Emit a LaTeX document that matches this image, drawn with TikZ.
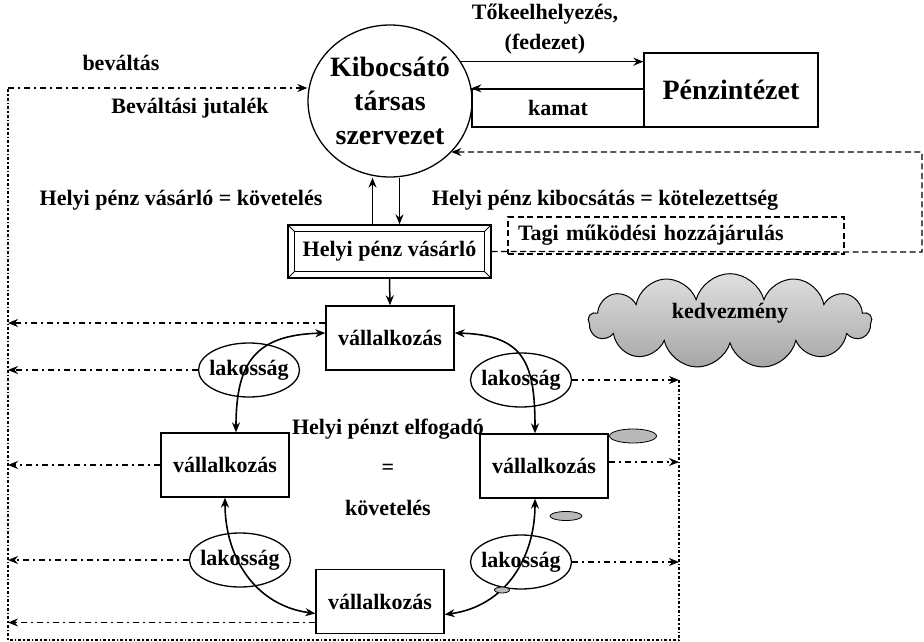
\documentclass[tikz,border=0pt]{standalone}
\usepackage{fontspec}
\setmainfont{Liberation Serif}
\usetikzlibrary{arrows.meta,shapes.geometric,shapes.symbols}

\begin{document}
\begin{tikzpicture}[
    x=1pt, y=-1pt,
    txt/.style={font=\fontsize{22}{26}\selectfont\bfseries},
    big/.style={font=\fontsize{28}{34}\selectfont\bfseries},
    issuer/.style={ellipse, draw, line width=1.3pt, big, align=center, inner xsep=-3pt, inner ysep=0pt, minimum width=164pt, minimum height=152pt},
    bank/.style={rectangle, draw, line width=1.3pt, big, minimum width=174pt, minimum height=74pt},
    firm/.style={rectangle, draw, line width=1.3pt, txt, minimum width=128pt, minimum height=64pt},
    popul/.style={ellipse, draw, line width=1.3pt, txt, inner xsep=-5pt, inner ysep=0pt, minimum width=101pt, minimum height=54pt},
    blob/.style={ellipse, draw, line width=0.8pt, fill=gray!55, inner sep=0pt},
    arrow/.style={-{Stealth[length=10pt,width=8pt]}, line width=1.5pt},
    twoway/.style={{Stealth[length=10pt,width=8pt]}-{Stealth[length=10pt,width=8pt]}, line width=1.6pt},
    flow/.style={dash pattern=on 6pt off 4pt on 2pt off 4pt, line width=1.3pt},
    border/.style={dash pattern=on 3pt off 2pt on 1.5pt off 2pt, line width=1.2pt},
    member/.style={dash pattern=on 6pt off 3.5pt, line width=1.3pt}
]
\useasboundingbox (0,0) rectangle (924,642);

% Top: issuer and bank
\node[issuer] (K) at (390,101) {Kibocsátó\\társas\\szervezet};
\node[bank] (P) at (731,90) {Pénzintézet};
\node[draw, line width=1.3pt, txt, minimum width=172pt, minimum height=38pt] (kamat) at (558,108) {kamat};
\node[font=\fontsize{22}{30}\selectfont\bfseries, align=center] (toke) at (545,29) {Tőkeelhelyezés,\\(fedezet)};

% Buyer
\node[draw, line width=1.3pt, txt, minimum width=203pt, minimum height=53pt] (H) at (389.5,251.5) {Helyi pénz vásárló};
\draw[line width=1pt] ([shift={(7,7)}]H.north west) rectangle ([shift={(-7,-7)}]H.south east);
\foreach \c/\dx/\dy in {north west/7/7, north east/-7/7, south east/-7/-7, south west/7/-7}
    \draw[line width=1pt] (H.\c) -- ++(\dx,\dy);
\node[member, draw, txt, text width=316pt, align=left, inner xsep=10pt, minimum height=37pt] (T) at (676,235.5) {Tagi működési hozzájárulás};

% Labels
\node[txt] (bev) at (121,63) {beváltás};
\node[txt] (jut) at (190,108) {Beváltási jutalék};
\node[txt] (vkov) at (181,200) {Helyi pénz vásárló = követelés};
\node[txt] (kkot) at (605,200) {Helyi pénz kibocsátás = kötelezettség};
\node[font=\fontsize{22}{40.5}\selectfont\bfseries, align=center] (elf) at (388,467) {Helyi pénzt elfogadó\\=\\követelés};

% Ring of firms and households
\node[firm] (V1) at (390,338) {vállalkozás};
\node[firm] (V2) at (225,465) {vállalkozás};
\node[firm] (V3) at (544,466) {vállalkozás};
\node[firm] (V4) at (380,601.5) {vállalkozás};
\node[popul] (L1) at (249,370) {lakosság};
\node[popul] (L2) at (521,380) {lakosság};
\node[popul] (L3) at (240,560) {lakosság};
\node[popul] (L4) at (521,562) {lakosság};

% Cloud and blobs
\node[cloud, cloud puffs=13, aspect=3.4, draw, line width=1pt, top color=gray!25, bottom color=gray!70, txt, minimum width=283pt, minimum height=82pt, text depth=20pt] (C) at (730,321) {kedvezmény};
\node[blob, minimum width=47pt, minimum height=14pt] (b1) at (633,436) {};
\node[blob, minimum width=32pt, minimum height=9pt] (b2) at (566,516) {};

% Corners of the return loop
\coordinate (TL) at (8,88);
\coordinate (BL) at (8,640);
\coordinate (BR) at (679,640);
\coordinate (RT) at (679,380);
\coordinate (RB) at (922,252);
\coordinate (RU) at (922,152);

% Edges
\draw[arrow] (K.29) -- (K.29 -| P.west);
\draw[arrow] (P.west |- kamat.north) -- (kamat.north west);
\draw[arrow] ([xshift=-17pt]H.north) -- ([xshift=-17pt]H.north |- K.south);
\draw[arrow] ([xshift=10pt]H.north |- K.south) -- ([xshift=10pt]H.north);
\draw[arrow] (H.south) -- (V1.north);
\draw[arrow, member] (H.east) -- (RB) -- (RU) -- (K.-40 |- RU);

\draw[twoway] ([yshift=5pt]V1.west) .. controls +(-70,2) and +(0,-70) .. ([xshift=11pt]V2.north);
\draw[twoway] ([yshift=5pt]V1.east) .. controls +(70,2) and +(0,-70) .. ([xshift=-9pt]V3.north);
\draw[twoway] (V2.south) .. controls +(0,60) and +(-60,-8) .. ([yshift=-12pt]V4.west);
\draw[twoway] ([xshift=-9pt]V3.south) .. controls +(0,60) and +(60,-8) .. ([yshift=-13pt]V4.east);
\node[blob, minimum width=15pt, minimum height=6pt] (b3) at (502,590) {};

% Return flows
\draw[border] (RT) -- (BR) -- (BL) -- (TL);
\draw[arrow, flow] (TL) -- (K.west |- TL);
\draw[arrow, flow] ([yshift=15pt]V1.west) -- ([yshift=15pt]V1.west -| TL);
\draw[arrow, flow] (L1.west) -- (L1.west -| TL);
\draw[arrow, flow] (V2.west) -- (V2.west -| TL);
\draw[arrow, flow] (L3.west) -- (L3.west -| TL);
\draw[arrow, flow] ([yshift=-21pt]V4.west) -- ([yshift=-21pt]V4.west -| TL);
\draw[arrow, flow] (L2.east) -- (L2.east -| BR);
\draw[arrow, flow] ([yshift=4pt]V3.east) -- ([yshift=4pt]V3.east -| BR);
\draw[arrow, flow] (L4.east) -- (L4.east -| BR);
\end{tikzpicture}
\end{document}
